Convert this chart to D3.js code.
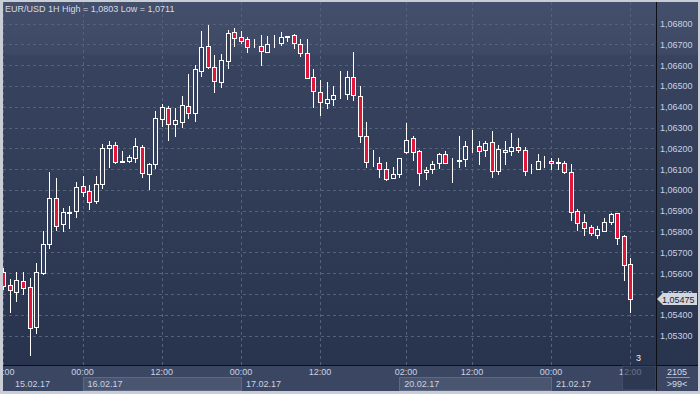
<!DOCTYPE html>
<meta charset="utf-8">
<head>
<style>
  body { margin: 0; background: #c9cdd5; }
  svg { display: block; }
  text { font-family: "Liberation Sans", Arial, sans-serif; font-size: 9px; }
</style>
</head>
<script src="https://d3js.org/d3.v7.min.js"></script>
<body>
<div id="chart"></div>
<script>
// hourly candles, index 0 = 15.02 12:00
var opens = [1.05604,1.05543,1.05511,1.05562,1.05533,1.05342,1.05602,1.05738,1.05960,1.05835,1.05890,1.05897,
  1.06017,1.05993,1.05945,1.06027,1.06200,1.06216,1.06136,1.06138,1.06152,1.06206,1.06075,1.06123,
  1.06339,1.06392,1.06318,1.06328,1.06403,1.06371,1.06573,1.06692,1.06591,1.06520,1.06621,1.06758,
  1.06734,1.06725,1.06692,1.06692,1.06663,1.06705,1.06708,1.06736,1.06743,1.06700,1.06658,1.06541,
  1.06469,1.06420,1.06438,1.06459,1.06459,1.06541,1.06450,1.06258,1.06133,1.06128,1.06099,1.06056,
  1.06075,1.06184,1.06248,1.06187,1.06085,1.06099,1.06128,1.06171,1.06134,1.06138,1.06147,1.06206,
  1.06211,1.06190,1.06229,1.06092,1.06190,1.06186,1.06206,1.06190,1.06099,1.06102,1.06140,1.06138,
  1.06131,1.06128,1.06085,1.05899,1.05846,1.05820,1.05785,1.05804,1.05847,1.05889,1.05778,1.05644];
var highs = [1.05624,1.05572,1.05604,1.05604,1.05576,1.05647,1.05802,1.06086,1.06057,1.05913,1.05923,1.06038,
  1.06067,1.06024,1.06067,1.06221,1.06235,1.06230,1.06187,1.06168,1.06249,1.06216,1.06131,1.06379,
  1.06413,1.06405,1.06395,1.06451,1.06557,1.06599,1.06764,1.06793,1.06649,1.06653,1.06769,1.06778,
  1.06764,1.06737,1.06725,1.06745,1.06740,1.06743,1.06758,1.06740,1.06751,1.06725,1.06725,1.06581,
  1.06528,1.06519,1.06498,1.06572,1.06572,1.06663,1.06500,1.06326,1.06192,1.06157,1.06134,1.06112,
  1.06155,1.06322,1.06259,1.06193,1.06110,1.06139,1.06179,1.06187,1.06152,1.06258,1.06235,1.06288,
  1.06235,1.06235,1.06283,1.06217,1.06235,1.06274,1.06249,1.06206,1.06124,1.06173,1.06163,1.06153,
  1.06153,1.06139,1.06124,1.05908,1.05884,1.05831,1.05826,1.05865,1.05890,1.05890,1.05783,1.05674];
var lows = [1.05519,1.05410,1.05462,1.05493,1.05203,1.05307,1.05592,1.05717,1.05804,1.05799,1.05813,1.05866,
  1.05964,1.05905,1.05931,1.06004,1.06104,1.06123,1.06131,1.06128,1.06131,1.06059,1.05999,1.06100,
  1.06301,1.06237,1.06256,1.06299,1.06341,1.06325,1.06544,1.06580,1.06467,1.06491,1.06583,1.06688,
  1.06701,1.06660,1.06684,1.06597,1.06658,1.06682,1.06693,1.06710,1.06677,1.06640,1.06532,1.06395,
  1.06357,1.06391,1.06403,1.06438,1.06433,1.06427,1.06224,1.06107,1.06110,1.06059,1.06044,1.06051,
  1.06059,1.06174,1.06140,1.06020,1.06046,1.06078,1.06102,1.06126,1.06035,1.06107,1.06110,1.06179,
  1.06121,1.06160,1.06059,1.06073,1.06121,1.06164,1.06179,1.06068,1.06075,1.06096,1.06105,1.06096,
  1.06096,1.06076,1.05850,1.05802,1.05778,1.05778,1.05764,1.05798,1.05833,1.05735,1.05563,1.05410];
var closes = [1.05538,1.05517,1.05567,1.05527,1.05337,1.05604,1.05738,1.05960,1.05828,1.05894,1.05892,1.06012,
  1.05988,1.05940,1.06028,1.06201,1.06214,1.06136,1.06137,1.06157,1.06211,1.06080,1.06124,1.06344,
  1.06397,1.06315,1.06336,1.06408,1.06371,1.06580,1.06687,1.06592,1.06524,1.06625,1.06753,1.06732,
  1.06717,1.06688,1.06693,1.06669,1.06701,1.06706,1.06734,1.06739,1.06705,1.06657,1.06539,1.06474,
  1.06421,1.06436,1.06455,1.06460,1.06542,1.06455,1.06258,1.06133,1.06134,1.06099,1.06051,1.06075,
  1.06153,1.06240,1.06181,1.06083,1.06096,1.06123,1.06173,1.06131,1.06135,1.06144,1.06210,1.06207,
  1.06188,1.06225,1.06089,1.06197,1.06181,1.06206,1.06190,1.06089,1.06100,1.06138,1.06141,1.06128,
  1.06132,1.06084,1.05895,1.05842,1.05818,1.05791,1.05811,1.05846,1.05884,1.05770,1.05640,1.05475];

var priceTicks = [1.068,1.067,1.066,1.065,1.064,1.063,1.062,1.061,1.060,1.059,1.058,1.057,1.056,1.055,1.054,1.053];
var timeTickIdx = [0,12,24,36,48,61,71,83,95];
var timeTickLabels = ["12:00","00:00","12:00","00:00","12:00","02:00","12:00","00:00","12:00"];
var dayStartIdx = [-12,12,36,60,83];
var dayLabels = ["15.02.17","16.02.17","17.02.17","20.02.17","21.02.17"];
var lastPrice = 1.05475;

var W = 700, H = 394;
var plotL = 3, plotR = 656, plotT = 2, plotB = 365, innerR = 698, innerB = 391;

var svg = d3.select("#chart").append("svg")
  .attr("width", W).attr("height", H);

var defs = svg.append("defs");
var grad = defs.append("linearGradient").attr("id", "bg")
  .attr("x1", 0).attr("y1", 0).attr("x2", 0).attr("y2", 1);
grad.append("stop").attr("offset", "0%").attr("stop-color", "#434f6b");
grad.append("stop").attr("offset", "14%").attr("stop-color", "#3d4965");
grad.append("stop").attr("offset", "15%").attr("stop-color", "#38445f");
grad.append("stop").attr("offset", "100%").attr("stop-color", "#28334d");

defs.append("clipPath").attr("id", "plotclip").append("rect")
  .attr("x", plotL).attr("y", plotT).attr("width", plotR - plotL).attr("height", plotB - plotT);
defs.append("clipPath").attr("id", "axclip").append("rect")
  .attr("x", plotL).attr("y", plotB).attr("width", plotR - plotL).attr("height", innerB - plotB);

// frame + panels
svg.append("rect").attr("width", W).attr("height", H).attr("fill", "#c9cdd5");
svg.append("rect").attr("x", plotL).attr("y", plotT).attr("width", innerR - plotL).attr("height", plotB - plotT)
  .attr("fill", "url(#bg)");
svg.append("rect").attr("x", plotL).attr("y", plotB).attr("width", innerR - plotL).attr("height", innerB - plotB)
  .attr("fill", "#3b4762");

var x = d3.scaleLinear().domain([0, 95]).range([3.3, 630.3]);
var y = d3.scaleLinear().domain([1.053, 1.068]).range([335.5, 23.5]);

var plot = svg.append("g").attr("clip-path", "url(#plotclip)");

// grid
plot.selectAll(".hgrid").data(priceTicks).enter().append("line")
  .attr("x1", plotL).attr("x2", plotR)
  .attr("y1", function(d) { return Math.round(y(d)) + 0.5; })
  .attr("y2", function(d) { return Math.round(y(d)) + 0.5; })
  .attr("stroke", "#56627d").attr("stroke-dasharray", "3,3");
plot.selectAll(".vgrid").data(timeTickIdx).enter().append("line")
  .attr("x1", function(d) { return Math.round(x(d)) + 0.5; })
  .attr("x2", function(d) { return Math.round(x(d)) + 0.5; })
  .attr("y1", plotT).attr("y2", plotB)
  .attr("stroke", "#56627d").attr("stroke-dasharray", "3,3");

// candles
var idx = d3.range(opens.length);
var candles = plot.selectAll(".candle").data(idx).enter().append("g");
candles.append("line")
  .attr("x1", function(i) { return Math.round(x(i)) + 0.5; })
  .attr("x2", function(i) { return Math.round(x(i)) + 0.5; })
  .attr("y1", function(i) { return Math.round(y(highs[i])); })
  .attr("y2", function(i) { return Math.round(y(lows[i])); })
  .attr("stroke", "#ffffff").attr("stroke-width", 1);
candles.append("rect")
  .attr("x", function(i) { return Math.round(x(i)) - 1.5; })
  .attr("width", 4)
  .attr("y", function(i) { return Math.round(y(Math.max(opens[i], closes[i]))) + 0.5; })
  .attr("height", function(i) {
    return Math.max(0, Math.round(y(Math.min(opens[i], closes[i]))) - Math.round(y(Math.max(opens[i], closes[i]))));
  })
  .attr("fill", function(i) { return closes[i] < opens[i] ? "#e0163b" : "#34405b"; })
  .attr("stroke", "#ffffff").attr("stroke-width", 1);

// title
svg.append("text").attr("x", 5).attr("y", 11.5).attr("fill", "#d6dbe6")
  .text("EUR/USD 1H High = 1,0803 Low = 1,0711");

svg.append("text").attr("x", 636).attr("y", 361).attr("fill", "#eef0f4").text("3");

// separators
svg.append("line").attr("x1", plotR + 0.5).attr("x2", plotR + 0.5).attr("y1", plotT).attr("y2", innerB)
  .attr("stroke", "#0d0f14");
svg.append("line").attr("x1", plotL).attr("x2", innerR).attr("y1", plotB + 0.5).attr("y2", plotB + 0.5)
  .attr("stroke", "#0d0f14");

// price axis
svg.selectAll(".ptick").data(priceTicks).enter().append("text")
  .attr("x", 660).attr("y", function(d) { return y(d) + 3.5; })
  .attr("fill", "#c9d2e3")
  .text(function(d) { return d3.format(".5f")(d).replace(".", ","); });

// last price marker
var ly = Math.round(y(lastPrice));
svg.append("path")
  .attr("d", "M657," + ly + " L663," + (ly - 6) + " L697," + (ly - 6) + " L697," + (ly + 6) + " L663," + (ly + 6) + " Z")
  .attr("fill", "#d3d7de");
svg.append("text").attr("x", 662).attr("y", ly + 3.5).attr("fill", "#1b2233")
  .text(d3.format(".5f")(lastPrice).replace(".", ","));

// time axis
var ax = svg.append("g").attr("clip-path", "url(#axclip)");
dayStartIdx.forEach(function(d, k) {
  if (k % 2 === 1) {
    var x0 = Math.round(x(d));
    var x1 = k + 1 < dayStartIdx.length ? Math.round(x(dayStartIdx[k + 1])) : plotR;
    ax.append("rect").attr("x", x0 + 0.5).attr("y", 377.5).attr("width", x1 - x0).attr("height", 13)
      .attr("fill", "#4a5670").attr("stroke", "#5d6984");
  }
});
ax.selectAll(".tt").data(timeTickIdx).enter().append("text")
  .attr("x", function(d) { return x(d); }).attr("y", 375)
  .attr("text-anchor", "middle").attr("fill", "#c9d2e3")
  .text(function(d, k) { return timeTickLabels[k]; });
ax.selectAll(".dl").data(dayStartIdx).enter().append("text")
  .attr("x", function(d) { return Math.max(15, x(d) + 5); }).attr("y", 387)
  .attr("fill", "#c9d2e3")
  .text(function(d, k) { return dayLabels[k]; });
// current bar highlight
ax.append("rect").attr("x", 622.5).attr("y", plotB + 1).attr("width", plotR - 622.5).attr("height", innerB - plotB - 2)
  .attr("fill", "#243048").attr("fill-opacity", 0.6).attr("stroke", "#4f5b75").attr("stroke-width", 0.6);

// corner box
svg.append("text").attr("x", 677).attr("y", 374.5).attr("text-anchor", "middle").attr("fill", "#d6dbe6").text("2105");
svg.append("line").attr("x1", 666).attr("x2", 690).attr("y1", 377.5).attr("y2", 377.5).attr("stroke", "#8d97aa");
svg.append("text").attr("x", 677).attr("y", 386.5).attr("text-anchor", "middle").attr("fill", "#d6dbe6").text(">99<");
</script>
</body>
